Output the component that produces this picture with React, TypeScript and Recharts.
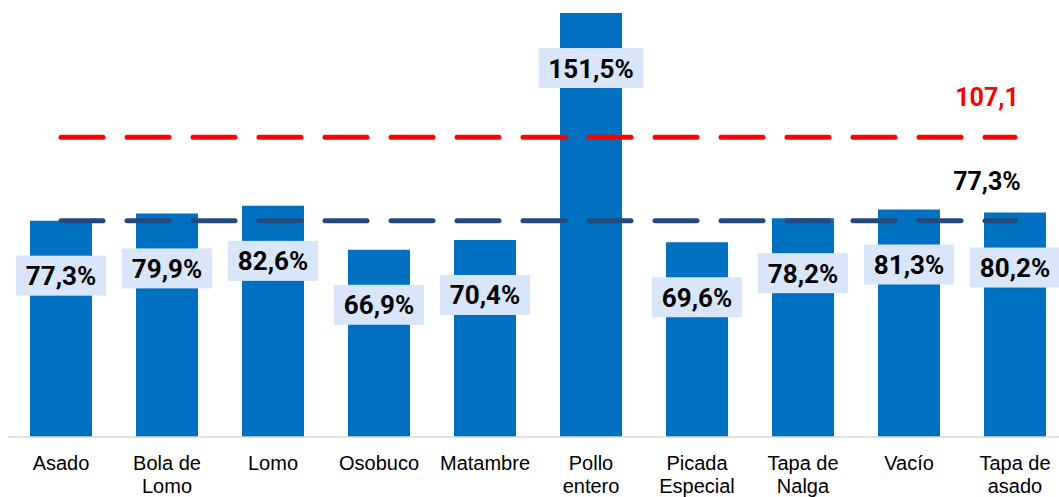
import React from 'react'
import { ComposedChart, Bar, Line, XAxis, YAxis, LabelList } from 'recharts'

const categories = ['Asado', 'Bola de Lomo', 'Lomo', 'Osobuco', 'Matambre', 'Pollo entero', 'Picada Especial', 'Tapa de Nalga', 'Vacío', 'Tapa de asado']
const values = [77.3, 79.9, 82.6, 66.9, 70.4, 151.5, 69.6, 78.2, 81.3, 80.2]
const redRef = 107.1
const blueRef = 77.3

const data = categories.map((name, i) => ({
  name,
  value: values[i],
  red: redRef,
  blue: blueRef,
}))

const fmt = (v: number) => v.toFixed(1).replace('.', ',')

// rough Roboto Bold widths at 26px
const textWidth = (s: string) =>
  s.split('').reduce((w, c) => w + (c === ',' ? 6 : c === '%' ? 19.5 : 14.6), 0)

const BarLabel = (props: any) => {
  const { x, y, width, value } = props
  const text = fmt(value) + '%'
  const tw = textWidth(text)
  const bw = tw + 21
  const cx = x + width / 2
  const cy = y + 55
  return (
    <g>
      <rect x={cx - bw / 2} y={cy - 20} width={bw} height={40} fill="#D9E6F9" />
      <text x={cx} y={cy + 9.5} textAnchor="middle" fontFamily="Roboto" fontWeight={700} fontSize={26} fill="#000">
        {text}
      </text>
    </g>
  )
}

const endLabel = (color: string, suffix: string) => (props: any) => {
  const { x, y, index, value } = props
  if (index !== categories.length - 1) return null
  return (
    <text x={x - 28} y={y - 31} textAnchor="middle" fontFamily="Roboto" fontWeight={700} fontSize={25} fill={color}>
      {fmt(value) + suffix}
    </text>
  )
}

const wrap = (s: string) => {
  const lines: string[] = []
  let cur = ''
  s.split(' ').forEach((w) => {
    if (!cur) cur = w
    else if ((cur + ' ' + w).length <= 8) cur += ' ' + w
    else {
      lines.push(cur)
      cur = w
    }
  })
  if (cur) lines.push(cur)
  return lines
}

const CatTick = (props: any) => {
  const { x, y, payload } = props
  const lines = wrap(payload.value)
  return (
    <text x={x} y={y} textAnchor="middle" fontFamily="'Liberation Sans', Arial" fontSize={20} fill="#000">
      {lines.map((l, i) => (
        <tspan key={i} x={x} dy={i === 0 ? 33 : 23}>{l}</tspan>
      ))}
    </text>
  )
}

export default function App() {
  return (
    <div style={{ position: 'fixed', top: 0, left: 0, width: 1059, height: 497, overflow: 'hidden', background: '#fff' }}>
      <ComposedChart width={1068} height={497} data={data} margin={{ top: 8, right: 0, bottom: 0, left: 8 }}>
        <XAxis
          dataKey="name"
          interval={0}
          height={60}
          tickLine={false}
          tickSize={0}
          tickMargin={0}
          axisLine={{ stroke: '#D9D9D9', strokeWidth: 1.5 }}
          tick={<CatTick />}
        />
        <YAxis hide domain={[0, 153.3]} />
        <Bar dataKey="value" fill="#0070C0" barSize={62} isAnimationActive={false}>
          <LabelList dataKey="value" content={<BarLabel />} />
        </Bar>
        <Line
          dataKey="red"
          stroke="#FF0000"
          strokeWidth={5}
          strokeDasharray="42 24"
          strokeLinecap="round"
          dot={false}
          activeDot={false}
          isAnimationActive={false}
        >
          <LabelList dataKey="red" content={endLabel('#FF0000', '')} />
        </Line>
        <Line
          dataKey="blue"
          stroke="#234A7D"
          strokeWidth={5}
          strokeDasharray="42 24"
          strokeLinecap="round"
          dot={false}
          activeDot={false}
          isAnimationActive={false}
        >
          <LabelList dataKey="blue" content={endLabel('#000', '%')} />
        </Line>
      </ComposedChart>
    </div>
  )
}
